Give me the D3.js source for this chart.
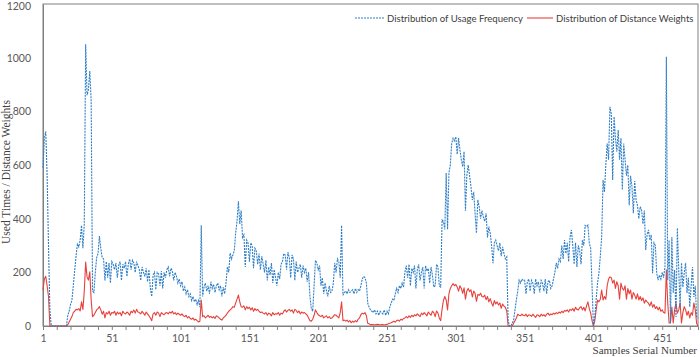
<!DOCTYPE html>
<html><head><meta charset="utf-8">
<script src="https://cdn.jsdelivr.net/npm/d3@7"></script>
<style>body{margin:0;background:#fff}svg{display:block}</style>
</head><body>
<svg id="c" width="700" height="357"></svg>
<script>
const usageFrequency = [
590,700,725,560,300,60,0,0,0,0,
0,0,0,0,0,0,0,0,40,55,
80,95,150,205,260,305,295,320,375,290,
380,1050,860,880,950,840,130,125,200,255,
270,335,290,255,250,170,240,180,235,160,
240,230,210,235,180,225,240,170,230,215,
240,185,230,250,210,245,235,200,240,225,
210,170,220,200,185,215,165,210,140,110,
190,200,135,200,195,150,205,140,200,180,
210,220,185,215,205,170,200,185,160,175,
150,165,130,145,120,135,110,120,95,110,
90,100,80,95,70,375,110,145,160,130,
150,120,165,140,155,125,150,160,135,150,
110,145,120,160,220,200,272,250,265,280,
346,390,465,380,430,330,340,220,320,310,
240,310,300,215,290,280,230,270,210,260,
230,200,245,170,220,190,235,160,210,180,
150,200,175,230,240,270,265,210,275,255,
180,265,250,170,240,200,215,230,180,225,
200,215,165,200,110,65,55,150,245,235,
210,225,150,180,120,160,130,110,150,125,
130,160,235,200,250,240,180,375,115,125,
130,120,135,125,130,135,120,140,125,135,
130,150,175,185,180,160,85,70,60,55,
50,60,45,55,40,55,50,45,60,40,
55,45,70,85,100,95,120,140,125,150,
140,160,145,200,225,180,230,150,215,200,
225,140,210,230,170,200,220,140,225,205,
215,160,220,190,145,150,230,220,150,145,
395,390,360,570,360,570,600,680,700,690,
705,640,700,656,620,594,650,430,560,600,
560,520,470,500,420,346,470,445,400,430,
407,390,420,330,370,346,300,234,310,320,
300,280,310,260,295,270,250,258,22,0,
0,10,22,60,97,130,171,160,175,170,
171,120,165,175,130,170,160,120,175,150,
165,125,170,160,130,175,120,165,170,140,
150,175,200,235,215,250,240,300,250,320,
270,310,240,330,358,300,230,310,220,300,
280,230,320,300,375,370,376,309,290,150,
0,35,100,160,197,260,333,544,500,600,
680,620,817,790,544,780,700,650,730,620,
700,507,680,620,560,600,450,560,520,420,
540,470,450,400,445,432,380,430,283,340,
358,320,340,197,310,300,197,171,190,175,
200,180,220,1003,171,320,11,332,123,209,
34,365,209,71,235,145,197,235,123,180,
71,150,220,108,150,34,30
];
const distanceWeights = [
134,175,185,150,110,0,0,0,0,0,
0,0,0,0,0,0,0,0,5,15,
25,35,50,55,62,60,65,56,90,62,
130,238,183,171,202,97,35,40,50,60,
65,72,60,44,55,30,50,45,55,40,
50,48,55,40,52,45,50,38,55,48,
45,52,48,40,55,50,60,48,62,52,
50,45,55,48,40,52,45,38,30,20,
45,50,40,52,48,35,50,45,42,48,
50,45,52,48,55,45,50,42,48,44,
40,45,38,35,40,30,35,28,25,30,
22,25,20,15,18,97,35,38,30,35,
40,32,36,30,35,28,38,35,30,25,
22,30,35,40,48,55,60,65,72,70,
85,100,115,90,72,70,75,60,72,65,
70,60,68,55,65,58,62,55,50,52,
48,45,50,40,48,45,38,50,42,46,
44,50,40,48,45,55,60,52,58,62,
55,60,48,62,58,50,56,45,52,48,
50,45,40,30,20,18,25,40,60,50,
42,38,35,40,30,35,38,30,35,28,
30,36,42,40,35,30,50,90,20,22,
18,22,15,20,12,18,14,20,15,25,
30,42,48,45,50,38,10,8,5,5,
5,4,5,6,5,4,5,5,4,5,
6,8,10,12,15,18,14,20,22,18,
25,22,28,30,35,30,38,32,40,35,
42,38,45,40,35,48,42,50,44,38,
52,45,40,55,50,35,56,48,30,20,
62,95,110,97,60,120,140,150,158,150,
155,145,130,150,140,122,142,100,130,140,
128,135,108,130,122,92,118,114,122,110,
108,115,98,110,90,102,86,74,95,82,
90,78,86,66,82,74,70,56,0,0,
0,0,10,20,30,44,40,38,44,40,
38,44,35,42,40,36,44,38,32,42,
40,35,44,38,42,36,44,48,40,45,
42,48,44,50,46,52,48,55,50,58,
55,60,52,62,58,65,55,70,62,60,
68,72,60,70,56,75,90,65,48,20,
0,20,60,97,90,100,134,97,110,100,
150,175,183,180,160,171,140,165,150,100,
160,140,134,150,100,140,120,134,100,125,
115,100,120,97,110,95,105,85,97,90,
85,75,90,70,80,65,72,60,70,55,
60,50,48,209,86,11,11,71,11,60,
86,48,60,86,11,50,72,60,40,55,
30,50,40,86,60,10,0
];
const xTickLabels = [1,51,101,151,201,251,301,351,401,451];
const yTickLabels = [0,200,400,600,800,1000,1200];
const seriesNames = ["Distribution of Usage Frequency","Distribution of Distance Weights"];
const axisTitles = {y:"Used Times / Distance Weights", x:"Samples Serial Number"};

const svg = d3.select("#c");
const N = usageFrequency.length;
const x = d3.scaleLinear().domain([1, N]).range([43, 698]);
const y = d3.scaleLinear().domain([0, 1200]).range([326, 4]);
const uiFont = "Lato, 'Open Sans', sans-serif";
const serif = "'Liberation Serif', 'DejaVu Serif', serif";

// plot border
svg.append("rect").attr("x",43).attr("y",4).attr("width",655).attr("height",322)
  .attr("fill","none").attr("stroke","#808080").attr("stroke-width",1);

// y axis labels
const yAxis = d3.axisLeft(y).tickValues(yTickLabels).tickFormat(d3.format("d")).tickSize(0).tickPadding(12);
const gy = svg.append("g").attr("transform","translate(43,0)").call(yAxis);
gy.select(".domain").attr("stroke","#808080");
gy.selectAll("text").attr("font-family",uiFont).attr("font-size","10.5px").attr("fill","#595959");
gy.selectAll(".tick").filter(d => d === 1200).select("text").attr("dy","0.55em");

// x axis
const minor = d3.range(1, N+1, 10);
const xAxis = d3.axisBottom(x).tickValues(minor).tickSize(4)
  .tickFormat(d => xTickLabels.includes(d) ? d : "").tickPadding(5);
const gx = svg.append("g").attr("transform","translate(0,326)").call(xAxis);
gx.select(".domain").attr("stroke","#808080");
gx.selectAll("line").attr("stroke","#808080");
gx.selectAll("text").attr("font-family",uiFont).attr("font-size","10.5px").attr("fill","#595959");

const idx = d3.range(N);
const line = (arr) => d3.line().x(i => x(i+1)).y(i => y(arr[i]))(idx);

svg.append("path").attr("d", line(distanceWeights)).attr("fill","none")
  .attr("stroke","#e8413c").attr("stroke-width",1.1).attr("stroke-linejoin","round");
svg.append("path").attr("d", line(usageFrequency)).attr("fill","none")
  .attr("stroke","#2f7fc6").attr("stroke-width",1.1).attr("stroke-dasharray","2,1");

// legend
const lg = svg.append("g").attr("font-family",uiFont).attr("font-size","9.6px").attr("fill","#404040");
lg.append("line").attr("x1",355).attr("x2",385).attr("y1",18).attr("y2",18)
  .attr("stroke","#2f7fc6").attr("stroke-width",1.1).attr("stroke-dasharray","2,1");
lg.append("text").attr("x",387).attr("y",21.5).text(seriesNames[0]);
lg.append("line").attr("x1",527).attr("x2",553).attr("y1",18).attr("y2",18)
  .attr("stroke","#e8413c").attr("stroke-width",1.1);
lg.append("text").attr("x",556).attr("y",21.5).text(seriesNames[1]);

// axis titles
svg.append("text").attr("transform","translate(10,172) rotate(-90)")
  .attr("text-anchor","middle").attr("font-family",serif).attr("font-size","11.5px")
  .attr("fill","#404040").text(axisTitles.y);
svg.append("text").attr("x",697).attr("y",354).attr("text-anchor","end")
  .attr("font-family",serif).attr("font-size","11px").attr("fill","#404040").text(axisTitles.x);
</script>
</body></html>
